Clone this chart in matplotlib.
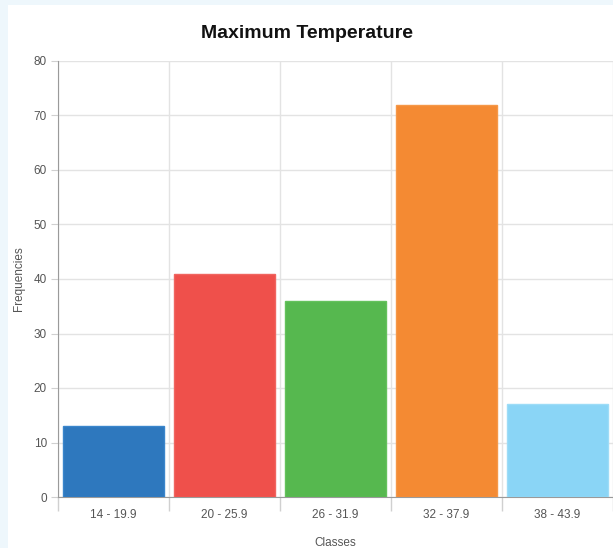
import matplotlib.pyplot as plt
import matplotlib.patches as patches
import numpy as np

classes = ["14 - 19.9", "20 - 25.9", "26 - 31.9", "32 - 37.9", "38 - 43.9"]
frequencies = [13, 41, 36, 72, 17]
colors = ["#2e78be", "#ef504b", "#56b84f", "#f48a33", "#8ad5f6"]
edge_colors = ["#3a86cc", "#f06560", "#64c25c", "#f59848", "#9ddcf7"]

plt.rcParams['font.family'] = ['Liberation Sans', 'DejaVu Sans']

fig = plt.figure(figsize=(6.13, 5.48), dpi=100, facecolor="#eef7fc")
# white card behind the chart
card = patches.Rectangle((8 / 613, 0), 1, (548 - 5) / 548,
                         transform=fig.transFigure,
                         facecolor="white", edgecolor="none", zorder=-10)
fig.add_artist(card)

ax = fig.add_axes([58 / 613, 51 / 548, 1 - 58 / 613, 436 / 548])
ax.set_zorder(1)
ax.set_facecolor("white")

x = np.arange(len(classes))
ax.bar(x, frequencies, width=0.91, color=colors, edgecolor=edge_colors,
       linewidth=1, zorder=3)

ax.set_xlim(-0.5, len(classes) - 0.5)
ax.set_ylim(0, 80)
ax.set_yticks(np.arange(0, 81, 10))
ax.set_xticks(x)
ax.set_xticklabels(classes)
ax.set_xticks(np.arange(-0.5, len(classes)), minor=True)

ax.grid(axis="y", which="major", color="#e3e3e3", linewidth=1, zorder=0)
ax.grid(axis="x", which="minor", color="#e3e3e3", linewidth=1, zorder=0)

ax.tick_params(axis="x", which="major", length=0, pad=9, labelsize=8.5, labelcolor="#555555")
ax.tick_params(axis="x", which="minor", length=10, color="#d0d0d0", width=1)
ax.tick_params(axis="y", length=5, color="#d0d0d0", pad=3, labelsize=8.5, labelcolor="#555555")

for side in ["top", "right"]:
    ax.spines[side].set_visible(False)
ax.spines["left"].set_color("#9a9a9a")
ax.spines["bottom"].set_color("#9a9a9a")

ax.set_xlabel("Classes", fontsize=8.5, color="#555555", labelpad=11)
ax.set_ylabel("Frequencies", fontsize=8.5, color="#555555", labelpad=6)

fig.text(307 / 613, 1 - 33 / 548, "Maximum Temperature", ha="center", va="center",
         fontsize=14, fontweight="bold", color="#111111")

fig.savefig("out.png", dpi=100, facecolor=fig.get_facecolor())
